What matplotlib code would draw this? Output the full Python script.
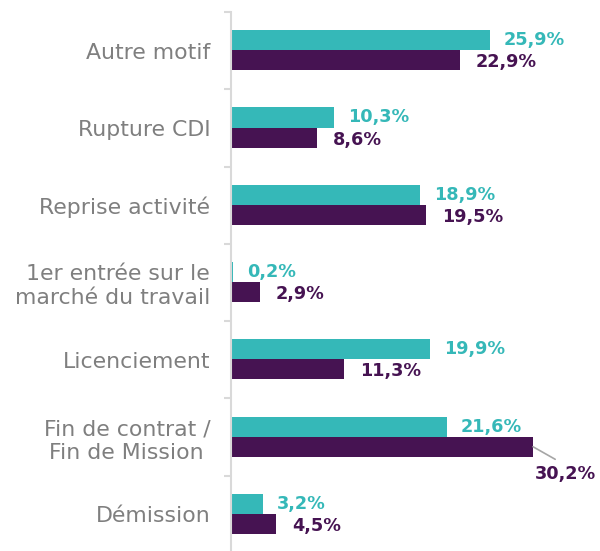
import numpy as np
import matplotlib.pyplot as plt

# Données
categories = ["Autre motif", "Rupture CDI", "Reprise activité",
              "1er entrée sur le\nmarché du travail", "Licenciement",
              "Fin de contrat /\nFin de Mission ", "Démission"]
serie_a = [25.9, 10.3, 18.9, 0.2, 19.9, 21.6, 3.2]
serie_b = [22.9, 8.6, 19.5, 2.9, 11.3, 30.2, 4.5]

TEAL = '#35b8b8'
PURPLE = '#461352'

fig = plt.figure(figsize=(6, 5.51), dpi=100)
ax = fig.add_axes([231 / 600, -2 / 551, 1 - 231 / 600, 541 / 551])

y = np.arange(len(categories))
h = 0.26
ax.barh(y - 0.135, serie_a, height=h, color=TEAL)
ax.barh(y + 0.125, serie_b, height=h, color=PURPLE)

ax.set_xlim(0, 36.9)
ax.set_ylim(len(categories) - 0.5, -0.5)

def fmt(v):
    return f"{v:.1f}%".replace('.', ',')

for i, v in enumerate(serie_a):
    ax.annotate(fmt(v), xy=(v, i - 0.135), xytext=(10, 0), textcoords='offset points',
                ha='left', va='center', color=TEAL, fontsize=12.7, fontweight='bold')

for i, v in enumerate(serie_b):
    if v == max(serie_b):
        # étiquette déportée avec trait de rappel
        ax.annotate(fmt(v), xy=(v, i + 0.125), xytext=(23, -19.5), textcoords='offset points',
                    ha='center', va='center', color=PURPLE, fontsize=12.7, fontweight='bold',
                    arrowprops=dict(arrowstyle='-', color='#a6a6a6', lw=1.2,
                                    relpos=(0.5, 1.0), shrinkA=4, shrinkB=0))
    else:
        ax.annotate(fmt(v), xy=(v, i + 0.15), xytext=(11.5, 0), textcoords='offset points',
                    ha='left', va='center', color=PURPLE, fontsize=12.7, fontweight='bold')

ax.set_yticks(y)
ax.set_yticklabels(categories, fontsize=15.8, color='#7f7f7f', linespacing=1.25)
ax.set_yticks(np.arange(-0.5, len(categories), 1), minor=True)
ax.tick_params(axis='y', which='major', length=0, pad=15)
ax.tick_params(axis='y', which='minor', length=5, color='#d9d9d9', width=1.5)
ax.set_xticks([])

for s in ['top', 'right', 'bottom']:
    ax.spines[s].set_visible(False)
ax.spines['left'].set_color('#d9d9d9')
ax.spines['left'].set_linewidth(1.5)

fig.savefig('out.png', dpi=100)
